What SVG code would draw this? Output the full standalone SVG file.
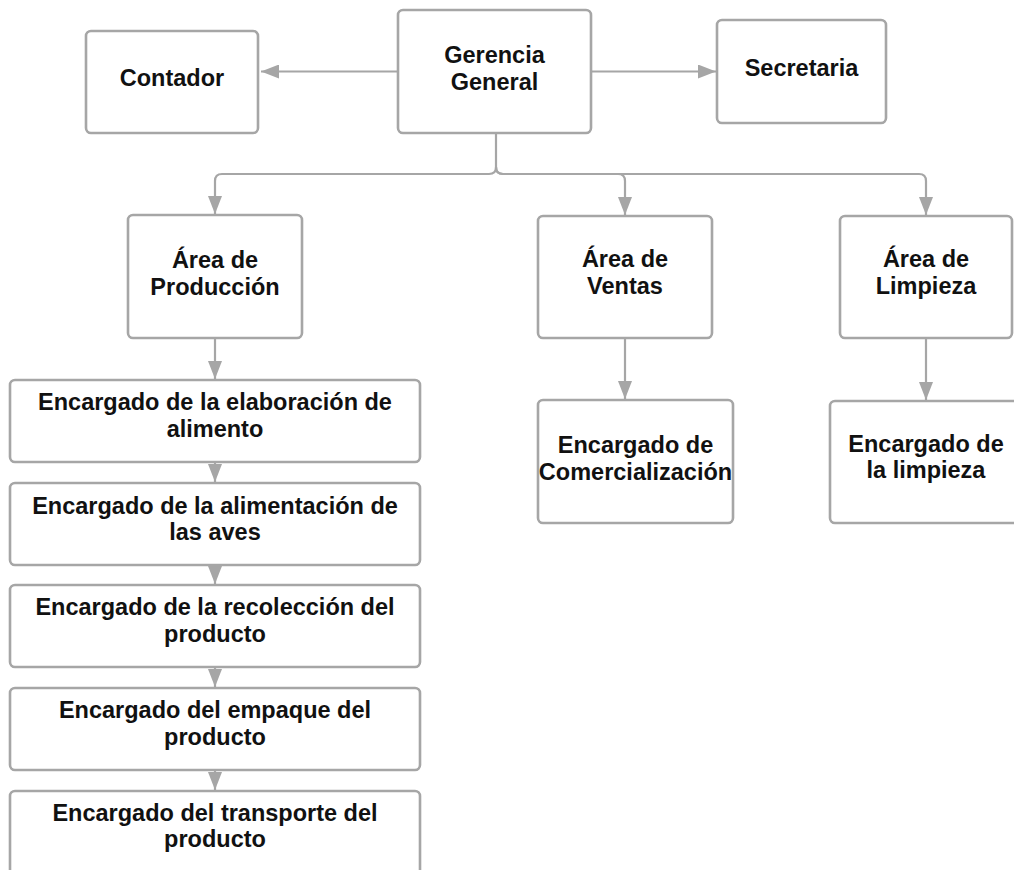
<svg xmlns="http://www.w3.org/2000/svg" width="1014" height="870" viewBox="0 0 1014 870">
<style>
.box{fill:#fff;stroke:#a6a6a6;stroke-width:2.6}
.t{font-family:"Liberation Sans",Arial,sans-serif;font-weight:bold;font-size:23.5px;fill:#111;text-anchor:middle}
.c{fill:none;stroke:#a6a6a6;stroke-width:2.2}
</style>
<defs>
<marker id="ah" markerUnits="userSpaceOnUse" markerWidth="18" markerHeight="14" refX="18" refY="7" orient="auto">
<path d="M0,0 L18,7 L0,14 z" fill="#a6a6a6"/>
</marker>
</defs>
<rect width="1014" height="870" fill="#fff"/>
<g id="connectors">
<path class="c" d="M398,71.5 H261" marker-end="url(#ah)"/>
<path class="c" d="M591,71.5 H716" marker-end="url(#ah)"/>
<path class="c" d="M496,133 V167 Q496,174 489,174 H222 Q215,174 215,181 V214" marker-end="url(#ah)"/>
<path class="c" d="M496,167 Q496,174 503,174 H618 Q625,174 625,181 V215" marker-end="url(#ah)"/>
<path class="c" d="M496,167 Q496,174 503,174 H919 Q926,174 926,181 V215" marker-end="url(#ah)"/>
<path class="c" d="M215,338 V379" marker-end="url(#ah)"/>
<path class="c" d="M215,462 V482" marker-end="url(#ah)"/>
<path class="c" d="M215,565 V584" marker-end="url(#ah)"/>
<path class="c" d="M215,667 V687" marker-end="url(#ah)"/>
<path class="c" d="M215,770 V790" marker-end="url(#ah)"/>
<path class="c" d="M625,338 V399" marker-end="url(#ah)"/>
<path class="c" d="M926,338 V400" marker-end="url(#ah)"/>
</g>
<g id="contador"><rect class="box" x="86" y="31" width="172" height="102" rx="5"/><text class="t" x="172" y="86">Contador</text></g>
<g id="gerencia"><rect class="box" x="398" y="10" width="193" height="123" rx="5"/><text class="t" x="494.5" y="62.5">Gerencia</text><text class="t" x="494.5" y="90">General</text></g>
<g id="secretaria"><rect class="box" x="717" y="20" width="169" height="103" rx="5"/><text class="t" x="801.5" y="76">Secretaria</text></g>
<g id="produccion"><rect class="box" x="128" y="215" width="174" height="123" rx="5"/><text class="t" x="215" y="268">Área de</text><text class="t" x="215" y="295">Producción</text></g>
<g id="ventas"><rect class="box" x="538" y="216" width="174" height="122" rx="5"/><text class="t" x="625" y="267">Área de</text><text class="t" x="625" y="294">Ventas</text></g>
<g id="limpieza"><rect class="box" x="840" y="216" width="172" height="122" rx="5"/><text class="t" x="926" y="267">Área de</text><text class="t" x="926" y="294">Limpieza</text></g>
<g id="elaboracion"><rect class="box" x="10" y="380" width="410" height="82" rx="5"/><text class="t" x="215" y="410">Encargado de la elaboración de</text><text class="t" x="215" y="437">alimento</text></g>
<g id="alimentacion"><rect class="box" x="10" y="483" width="410" height="82" rx="5"/><text class="t" x="215" y="514">Encargado de la alimentación de</text><text class="t" x="215" y="540">las aves</text></g>
<g id="recoleccion"><rect class="box" x="10" y="585" width="410" height="82" rx="5"/><text class="t" x="215" y="615">Encargado de la recolección del</text><text class="t" x="215" y="642">producto</text></g>
<g id="empaque"><rect class="box" x="10" y="688" width="410" height="82" rx="5"/><text class="t" x="215" y="718">Encargado del empaque del</text><text class="t" x="215" y="745">producto</text></g>
<g id="transporte"><rect class="box" x="10" y="791" width="410" height="84" rx="5"/><text class="t" x="215" y="821">Encargado del transporte del</text><text class="t" x="215" y="847">producto</text></g>
<g id="comercializacion"><rect class="box" x="538" y="400" width="195" height="123" rx="5"/><text class="t" x="635.5" y="453">Encargado de</text><text class="t" x="635.5" y="480">Comercialización</text></g>
<g id="limpieza-enc"><rect class="box" x="830" y="401" width="194" height="122" rx="5"/><text class="t" x="926" y="452">Encargado de</text><text class="t" x="926" y="478">la limpieza</text></g>
</svg>
